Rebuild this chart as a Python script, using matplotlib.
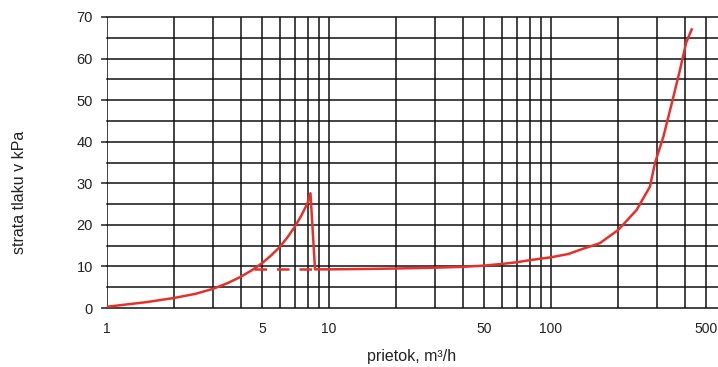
import matplotlib
matplotlib.use("Agg")
from matplotlib import pyplot as plt
from matplotlib.ticker import FixedLocator, NullFormatter

plt.rcParams['font.family'] = ['Liberation Sans', 'DejaVu Sans']

# pressure loss curve
flow = [1, 1.5, 2, 2.5, 3, 3.5, 4, 4.5, 5, 5.5, 6, 6.5, 7, 7.5, 8, 8.25, 8.65,
        10, 15, 20, 30, 40, 50, 60, 70, 80, 100, 120, 135, 166, 201, 243, 279,
        294, 321, 350, 381, 406, 430]
loss = [0.3, 1.4, 2.4, 3.4, 4.6, 6.0, 7.5, 9.1, 10.8, 12.7, 14.7, 17.0, 19.5,
        22.2, 25.2, 27.6, 9.3, 9.3, 9.4, 9.5, 9.7, 9.9, 10.2, 10.6, 11.0, 11.5,
        12.2, 13.0, 14.0, 15.6, 18.8, 23.6, 29.2, 34.9, 41.3, 49.3, 57.3, 63.8,
        67.0]

# dashed continuation of the flat part
dash_flow = [4.6, 8.65]
dash_loss = [9.3, 9.3]

x_labels = [1, 5, 10, 50, 100, 500]
x_grid = [1, 2, 3, 4, 5, 6, 7, 8, 9, 10, 20, 30, 40, 50, 60, 70, 80, 90,
          100, 200, 300, 400, 500]
y_major = list(range(0, 71, 10))
y_grid = list(range(0, 71, 5))

red = '#e8302b'

fig = plt.figure(figsize=(7.18, 3.67), dpi=100)
ax = fig.add_axes([107 / 718, 59 / 367, 611 / 718, 291 / 367])

ax.set_xscale('log')
ax.set_xlim(1, 565)
ax.set_ylim(0, 70)

ax.xaxis.set_major_locator(FixedLocator(x_labels))
ax.xaxis.set_minor_locator(FixedLocator(x_grid))
ax.xaxis.set_minor_formatter(NullFormatter())
ax.set_xticklabels([str(v) for v in x_labels])
ax.yaxis.set_major_locator(FixedLocator(y_major))
ax.yaxis.set_minor_locator(FixedLocator(y_grid))

for v in x_grid:
    ax.axvline(v, color='#111111', lw=1.1, zorder=1)
for v in y_grid:
    ax.axhline(v, color='#111111', lw=1.1, zorder=1, clip_on=False)

for s in ['right', 'bottom', 'left', 'top']:
    ax.spines[s].set_visible(False)

ax.tick_params(axis='x', which='both', length=0, pad=10, labelsize=10, colors='#222222')
ax.tick_params(axis='y', which='major', length=4, width=1.1, pad=6, labelsize=10.5, colors='#222222')
ax.tick_params(axis='y', which='minor', length=0)

ax.plot(dash_flow, dash_loss, color=red, lw=1.8, dashes=(5, 4), zorder=3)
ax.plot(flow, loss, color=red, lw=1.8, zorder=4, solid_joinstyle='round')

fig.text(20 / 718, 1 - 192 / 367, 'strata tlaku v kPa', rotation=90, ha='center', va='center',
         fontsize=11.5, color='#222222')
fig.text(412 / 718, 1 - 357 / 367, 'prietok, m³/h', ha='center', va='center',
         fontsize=11.5, color='#222222')

fig.savefig('out.png', dpi=100)
